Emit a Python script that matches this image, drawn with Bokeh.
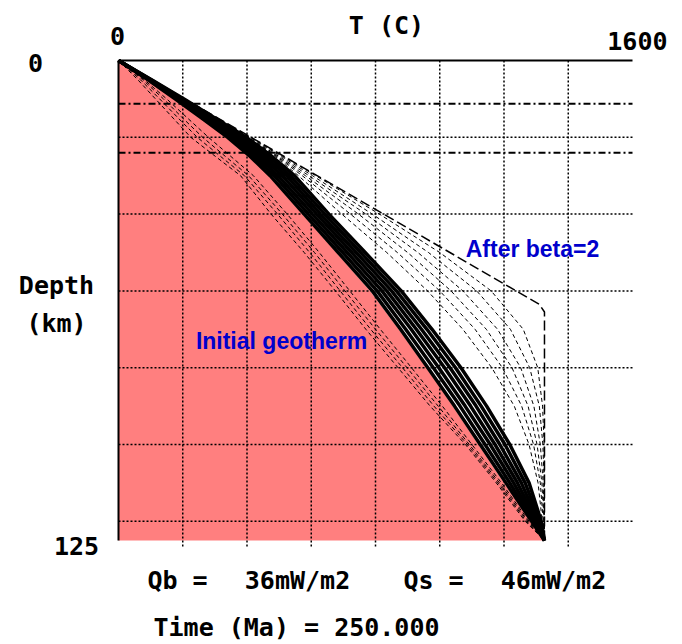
from bokeh.plotting import figure
from bokeh.models import Range1d, Label
from bokeh.embed import file_html
from bokeh.resources import INLINE

# ---------------- data ----------------
depth_km = [0, 5, 10, 15, 20, 25, 30, 40, 50, 60, 70, 80, 90, 100, 110, 120, 125]

# initial geotherm (pink area boundary)
T_initial = [0, 88, 172, 255, 335, 405, 468, 572, 678, 783, 872, 958, 1040, 1120, 1200, 1282, 1326]

# geotherm immediately after stretching (beta = 2)
beta_depth = [0, 63.5, 65.5, 125]
beta_T = [0, 1310, 1326, 1326]

# early relaxation geotherms (dashed)
T_d1 = [0, 103, 206, 309, 411, 513, 614, 812, 1000, 1160, 1260, 1305, 1320, 1325, 1326, 1326, 1326]
T_d2 = [0, 103, 205, 307, 408, 507, 604, 790, 965, 1115, 1220, 1280, 1310, 1321, 1325, 1326, 1326]
T_d3 = [0, 103, 205, 305, 404, 500, 593, 770, 932, 1072, 1180, 1252, 1293, 1313, 1322, 1325, 1326]
T_d4 = [0, 103, 204, 303, 401, 495, 582, 747, 900, 1035, 1145, 1225, 1275, 1303, 1318, 1324, 1326]
T_d5 = [0, 103, 204, 302, 400, 492, 572, 722, 868, 1000, 1110, 1195, 1255, 1292, 1313, 1322, 1326]
T_d6 = [0, 103, 204, 301, 400, 488, 560, 695, 835, 962, 1072, 1162, 1232, 1278, 1306, 1319, 1326]

# late geotherms forming the thick band (hottest first, 250 Ma last)
T_b6 = [0, 103, 204, 300, 398, 478, 548, 655, 768, 880, 976, 1066, 1146, 1218, 1278, 1316, 1326]
T_b5 = [0, 101, 199, 293, 388, 467, 535, 642, 754, 865, 960, 1049, 1129, 1203, 1266, 1311, 1326]
T_b4 = [0, 99, 195, 286, 379, 455, 523, 629, 740, 850, 943, 1032, 1113, 1187, 1254, 1306, 1326]
T_b3 = [0, 97, 190, 280, 369, 444, 510, 617, 726, 835, 927, 1015, 1096, 1172, 1242, 1301, 1326]
T_b2 = [0, 96, 185, 273, 359, 433, 497, 604, 712, 820, 911, 997, 1079, 1157, 1230, 1296, 1326]
T_b1 = [0, 94, 181, 266, 350, 421, 485, 591, 698, 805, 894, 980, 1063, 1141, 1218, 1291, 1326]
T_final = [0, 92, 176, 259, 340, 410, 472, 578, 684, 790, 878, 963, 1046, 1126, 1206, 1286, 1326]

# cooler geotherms (inside the pink area)
T_c1 = [0, 80, 150, 215, 280, 350, 420, 525, 625, 720, 815, 912, 1008, 1100, 1192, 1278, 1326]
T_c2 = [0, 75, 140, 200, 262, 333, 405, 510, 610, 705, 800, 898, 995, 1092, 1186, 1274, 1326]
T_c3 = [0, 68, 128, 186, 245, 318, 392, 495, 595, 690, 785, 884, 982, 1086, 1181, 1270, 1326]
T_c4 = [0, 60, 115, 170, 225, 302, 380, 475, 578, 675, 770, 870, 970, 1080, 1176, 1266, 1326]

grid_T = [200, 400, 600, 800, 1000, 1200, 1400]
grid_depth = [20, 40, 60, 80, 100, 120]
layer_depth = [11.25, 24]

T_max = 1600
depth_max = 125

# ---------------- layout ----------------
W, H = 682, 644
X0, XMAX = 118, 632    # px for T = 0 and T = 1600
Y0, YMAX = 60, 540     # px for depth 0 and 125
kx = (XMAX - X0) / T_max
ky = (YMAX - Y0) / depth_max


def T_at(px):
    return (px - X0) / kx


def d_at(py):
    return (py - Y0) / ky


p = figure(width=W, height=H,
           x_range=Range1d(T_at(0), T_at(W)),
           y_range=Range1d(d_at(H), d_at(0)),
           output_backend="svg", toolbar_location=None,
           x_axis_location=None, y_axis_location=None,
           min_border=0)
p.grid.visible = False
p.outline_line_color = None
p.background_fill_color = "white"

# pink area under the initial geotherm
p.patch(T_initial + [0], depth_km + [depth_max], fill_color="#FF7F7F", line_color=None)

# grid
n = len(grid_T)
p.segment(x0=grid_T, y0=[0] * n, x1=grid_T, y1=[depth_max + 2] * n,
          line_color="black", line_width=1.5, line_dash="2 2")
m = len(grid_depth)
p.segment(x0=[0] * m, y0=grid_depth, x1=[T_max] * m, y1=grid_depth,
          line_color="black", line_width=1.5, line_dash="2 2")
k = len(layer_depth)
p.segment(x0=[0] * k, y0=layer_depth, x1=[T_max] * k, y1=layer_depth,
          line_color="black", line_width=2, line_dash="7 3 2 3")

# cooler geotherms
for T in (T_c1, T_c2, T_c3, T_c4):
    p.line(T, depth_km, line_color="black", line_width=1, line_dash="4 3")

# relaxation geotherms
for T in (T_d1, T_d2, T_d3, T_d4, T_d5, T_d6):
    p.line(T, depth_km, line_color="black", line_width=1, line_dash="4 3")

for T in (T_b6, T_b5, T_b4, T_b3, T_b2, T_b1, T_final):
    p.line(T, depth_km, line_color="black", line_width=3.5)

# beta = 2 geotherm
p.line(beta_T, beta_depth, line_color="black", line_width=1.5, line_dash="10 4")

# frame lines
p.line([0, T_max], [0, 0], line_color="black", line_width=2)
p.line([0, 0], [0, depth_max], line_color="black", line_width=2)

mono = dict(text_font="DejaVu Sans Mono", text_font_style="bold",
            text_font_size="25px", text_color="black", text_baseline="middle")


def lab(px, py, text, align="center", **kw):
    opts = dict(mono)
    opts.update(kw)
    p.add_layout(Label(x=T_at(px), y=d_at(py), text=text, text_align=align, **opts))


lab(117, 35, "0")
lab(386, 25, "T (C)")
lab(667, 40, "1600", align="right")
lab(35, 62, "0")
lab(56, 285, "Depth")
lab(56, 323, "(km)")
lab(76, 545, "125")
lab(177, 580, "Qb =")
lab(297, 580, "36mW/m2")
lab(433, 580, "Qs =")
lab(553, 580, "46mW/m2")
lab(296, 627, "Time (Ma) = 250.000")

blue = dict(text_font="Liberation Sans", text_font_style="bold",
            text_font_size="23px", text_color="#0000CC")
lab(532, 248, "After beta=2", **blue)
lab(281, 340, "Initial geotherm", **blue)

open("out.html", "w").write(file_html(p, INLINE))
